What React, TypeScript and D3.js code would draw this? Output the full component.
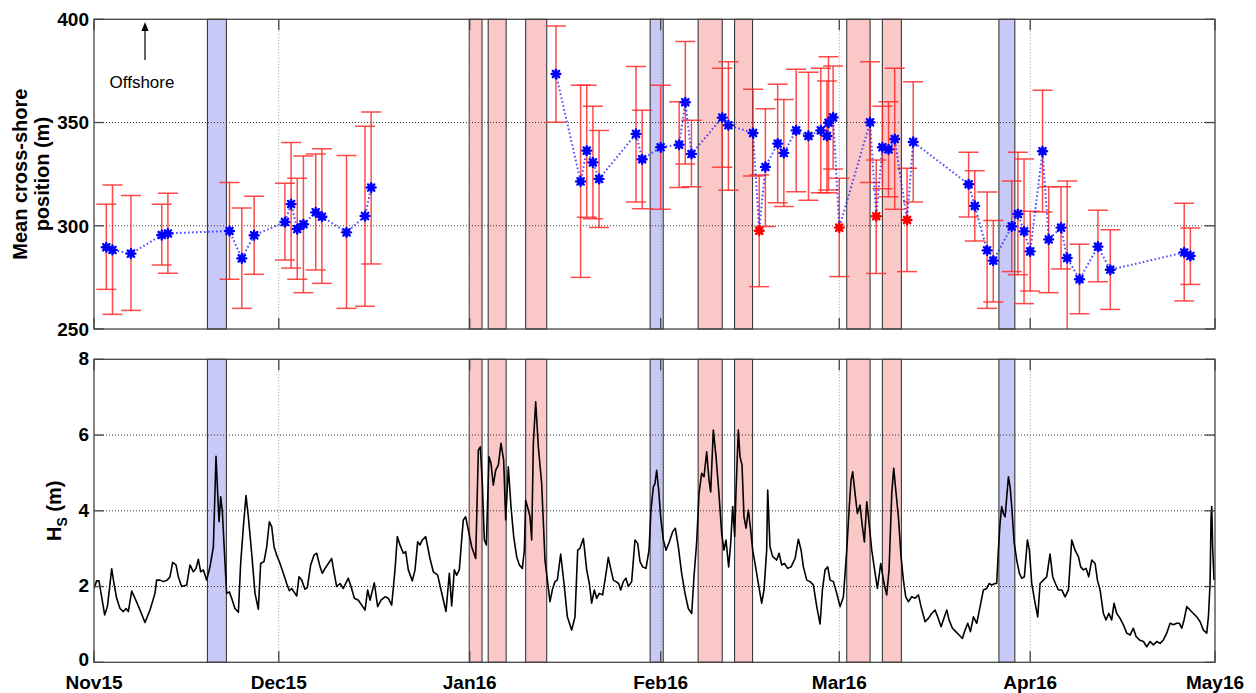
import React from "react";
import * as d3 from "d3";

// ---------- DATA ----------
// Mean cross-shore position samples
const posDates = [
  "2015-11-03", "2015-11-04", "2015-11-07", "2015-11-12", "2015-11-13", "2015-11-23", "2015-11-25", "2015-11-27",
  "2015-12-02", "2015-12-03", "2015-12-04", "2015-12-05", "2015-12-07", "2015-12-08", "2015-12-12", "2015-12-15", "2015-12-16",
  "2016-01-15", "2016-01-19", "2016-01-20", "2016-01-21", "2016-01-22", "2016-01-28", "2016-01-29",
  "2016-02-01", "2016-02-04", "2016-02-05", "2016-02-06", "2016-02-11", "2016-02-12", "2016-02-16", "2016-02-17",
  "2016-02-18", "2016-02-20", "2016-02-21", "2016-02-23", "2016-02-25", "2016-02-27", "2016-02-28T00:00", "2016-02-28T06:00",
  "2016-02-29", "2016-03-01", "2016-03-06", "2016-03-07", "2016-03-08", "2016-03-09", "2016-03-10", "2016-03-12", "2016-03-13",
  "2016-03-22", "2016-03-23", "2016-03-25", "2016-03-26", "2016-03-29", "2016-03-30", "2016-03-31",
  "2016-04-01", "2016-04-03", "2016-04-04", "2016-04-06", "2016-04-07", "2016-04-09", "2016-04-12", "2016-04-14",
  "2016-04-26", "2016-04-27",
];
const posMean = [
  289.6, 288.3, 286.5, 295.5, 296.3, 297.5, 284.2, 295.4,
  301.8, 310.5, 298.4, 300.7, 306.5, 304.4, 296.8, 304.7, 318.5,
  373.5, 321.5, 336.4, 330.7, 322.7, 344.5, 332.2,
  338.0, 339.3, 359.8, 334.8, 352.4, 348.7, 344.9, 297.6,
  328.5, 339.8, 335.3, 346.2, 343.5, 346.2, 343.5, 349.9,
  352.5, 299.1, 350.1, 304.6, 338.0, 337.0, 342.0, 302.8, 340.6,
  320.1, 309.6, 288.1, 283.1, 299.7, 305.7, 297.3,
  287.6, 336.1, 293.4, 299.1, 284.4, 274.1, 289.9, 278.7,
  287.1, 285.4,
];
const posUpper = [
  310.4, 319.7, 314.7, 310.4, 315.7, 320.9, 308.6, 314.3,
  320.6, 340.3, 323.0, 333.8, 334.8, 337.3, 334.0, 348.2, 355.1,
  396.8, 368.0, 368.0, 357.9, 346.2, 377.1, 355.9,
  368.0, 360.1, 389.2, 351.1, 376.3, 379.5, 366.1, 324.6,
  356.7, 368.5, 361.2, 375.8, 374.3, 376.3, 370.1, 381.9,
  377.4, 323.0, 379.5, 331.8, 357.9, 360.1, 376.3, 327.8, 369.8,
  335.6, 326.6, 316.4, 302.6, 321.7, 335.6, 332.3,
  307.0, 365.6, 318.9, 318.9, 321.7, 291.0, 307.5, 298.1,
  310.9, 298.9,
];
const posLower = [
  269.2, 257.1, 259.0, 281.0, 277.0, 274.1, 260.0, 276.5,
  283.4, 279.5, 274.1, 267.6, 278.6, 272.1, 260.0, 261.0, 281.5,
  350.1, 275.0, 304.1, 303.4, 299.1, 311.5, 308.3,
  308.0, 318.5, 329.9, 318.9, 328.3, 317.2, 324.1, 270.5,
  299.7, 311.2, 309.3, 316.5, 312.3, 316.0, 316.0, 317.3,
  327.5, 275.4, 321.0, 276.9, 317.9, 314.1, 308.0, 277.8, 311.5,
  304.2, 292.6, 260.0, 263.1, 277.8, 276.3, 262.3,
  268.4, 306.7, 267.6, 279.1, 240.0, 257.4, 272.9, 259.5,
  263.6, 271.6,
];
// surveys flagged in red
const posFlagged = ["2016-02-17", "2016-03-01", "2016-03-07", "2016-03-12"];

// Storm / event windows
const eventStart = [
  "2015-11-19T10:00", "2015-12-31T22:00", "2016-01-04T00:00", "2016-01-10T02:00", "2016-01-30T07:00",
  "2016-02-07T02:00", "2016-02-13T00:00", "2016-03-02T05:00", "2016-03-08T00:00", "2016-03-26T22:00",
];
const eventEnd = [
  "2015-11-22T12:00", "2016-01-03T00:00", "2016-01-06T22:00", "2016-01-13T12:00", "2016-02-01T10:00",
  "2016-02-11T00:00", "2016-02-15T22:00", "2016-03-06T00:00", "2016-03-11T02:00", "2016-03-29T12:00",
];
const eventType = ["blue", "red", "red", "red", "blue", "red", "red", "red", "red", "blue"];

// Significant wave height: days since 2015-11-01 00:00 UTC, and Hs (m)
const hsDay = [
  0.0, 0.43, 0.81, 1.24, 1.73, 2.17, 2.49, 2.87, 3.25, 3.68, 4.22, 4.76, 5.2, 5.57, 6.12, 6.66, 7.47, 8.28, 9.09, 9.9,
  10.17, 10.72, 11.26, 11.91, 12.34, 12.77, 13.31, 13.69, 14.23, 15.05, 15.59, 16.13, 16.56, 16.94, 17.32, 17.75, 18.29, 18.83, 19.38, 19.81,
  20.08, 20.3, 20.57, 20.84, 21.16, 21.54, 21.97, 22.35, 22.89, 23.44, 23.81, 24.25, 24.68, 25.06, 25.6, 26.14, 26.68, 27.06, 27.6, 28.04,
  28.47, 28.85, 29.23, 29.66, 30.2, 30.74, 31.28, 31.72, 32.09, 32.47, 32.91, 33.29, 33.72, 34.26, 34.64, 35.18, 35.72, 36.15, 36.7, 37.07,
  37.51, 38.05, 38.59, 38.96, 39.4, 39.94, 40.48, 41.29, 41.73, 42.27, 42.92, 43.46, 44.0, 44.43, 44.81, 45.51, 46.05, 46.6, 47.24, 47.79,
  48.33, 48.87, 49.25, 49.68, 50.22, 50.6, 51.03, 51.68, 52.12, 52.55, 52.93, 53.31, 53.85, 54.55, 55.09, 55.8, 56.34, 57.15, 57.69, 58.07,
  58.5, 58.88, 59.31, 59.69, 59.96, 60.34, 60.78, 61.32, 61.97, 62.4, 62.72, 63.05, 63.37, 63.7, 64.13, 64.46, 64.83, 65.21, 65.65, 66.08,
  66.51, 66.84, 67.27, 67.7, 68.14, 68.62, 69.06, 69.54, 69.87, 70.08, 70.52, 70.79, 71.06, 71.33, 71.71, 72.14, 72.68, 73.22,
  74.03, 74.47, 74.85, 75.22, 75.77, 76.31, 76.85, 77.55, 78.09, 78.53, 78.9, 79.45, 79.99, 80.42, 80.8, 81.23, 81.61, 82.04, 82.58, 83.13,
  83.5, 83.88, 84.32, 84.75, 85.18, 85.51, 85.94, 86.37, 86.75, 87.29, 87.83, 88.27, 88.65, 89.08, 89.62, 90.11, 90.43, 90.81, 91.08, 91.35,
  91.68, 92.0, 92.44, 92.87, 93.41, 93.95, 94.38, 94.87, 95.41, 95.95, 96.49, 97.04, 97.41, 97.85, 98.23, 98.66, 99.04, 99.47, 99.85, 100.12,
  100.55, 100.99, 101.42, 101.91, 102.28, 102.61, 103.04, 103.37, 103.69, 104.02, 104.24, 104.61, 104.88, 105.21, 105.53, 105.86, 106.24, 106.62, 106.94, 107.32,
  107.86, 108.4, 108.78, 109.21, 109.38, 109.75, 110.19, 110.57,
  110.84, 111.22, 111.66, 112.09, 112.63, 113.17, 113.82, 114.36, 114.8, 115.17, 115.72, 116.26, 116.8, 117.34, 117.88, 118.26, 118.69, 119.13, 119.5, 120.05,
  120.59, 121.13, 121.67, 122.21, 122.59, 122.91, 123.18, 123.56, 123.94, 124.37, 124.75, 125.08, 125.46, 125.84, 126.27, 126.7, 127.19, 127.73, 128.27, 128.7,
  129.08, 129.52, 129.84, 130.17, 130.6, 131.03, 131.41, 131.79, 132.22, 132.76, 133.31, 133.85, 134.28, 134.93, 135.47, 136.01, 136.55, 136.98, 137.53, 138.07,
  138.45, 138.82, 139.37, 139.91, 140.45, 140.99, 141.42, 141.86, 142.29, 142.78, 143.32, 143.86, 144.4, 144.94, 145.32, 145.75, 146.29,
  146.56, 146.83, 147.1, 147.37, 147.64, 147.92, 148.19, 148.46, 148.73, 149.0, 149.38, 149.81, 150.24, 150.62, 151.05, 151.54, 151.87, 152.25, 152.79, 153.22,
  153.6, 154.14, 154.68, 155.22, 155.65, 156.09, 156.57, 157.12, 157.66, 158.2, 158.74, 159.28, 159.82, 160.2, 160.63, 161.07, 161.5, 161.99, 162.53, 162.91,
  163.34, 163.88, 164.31, 164.75, 165.23, 165.61, 166.05, 166.59, 167.13, 167.67, 168.21, 168.75, 169.19, 169.73, 170.38, 170.92, 171.46, 172.0, 172.54, 173.08,
  173.62, 174.16, 174.71, 175.25, 175.79, 176.22, 176.6, 176.98, 177.41, 177.95, 178.49, 179.04, 179.58, 180.12, 180.66, 180.93, 181.2, 181.36, 181.47, 181.63, 181.85,
];
const hsValue = [
  1.95, 2.15, 2.15, 1.73, 1.25, 1.47, 1.91, 2.47, 2.08, 1.69, 1.42, 1.34, 1.42, 1.34, 1.88, 1.69, 1.38, 1.05, 1.38, 1.82,
  2.17, 2.17, 2.13, 2.17, 2.26, 2.64, 2.57, 2.26, 2.0, 2.04, 2.57, 2.39, 2.48, 2.72, 2.39, 2.44, 2.17, 2.52, 3.05, 5.44,
  4.46, 3.71, 4.37, 3.98, 2.96, 1.82, 1.86, 1.69, 1.42, 1.32, 2.61, 3.58, 4.4, 3.84, 2.88, 1.82, 1.4, 2.61, 2.66, 3.05,
  3.71, 3.58, 3.05, 2.83, 2.61, 2.35, 2.08, 1.89, 1.95, 1.86, 1.75, 2.26, 2.17, 1.93, 1.98, 2.57, 2.83, 2.88, 2.52, 2.35,
  2.48, 2.61, 2.74, 2.39, 2.0, 2.08, 1.95, 2.22, 2.0, 1.69, 1.64, 1.51, 1.38, 1.91, 1.64, 2.1, 1.47, 1.64, 1.73, 1.69,
  1.51, 2.44, 3.32, 3.1, 2.88, 2.92, 2.44, 2.15, 2.44, 3.18, 3.1, 3.23, 3.32, 2.74, 2.39, 2.3, 1.91, 1.34, 2.35, 1.49,
  2.44, 2.3, 2.44, 3.23, 3.76, 3.84, 3.49, 3.05, 2.74, 5.6, 5.69, 4.72, 3.23, 3.1, 5.43, 5.25, 4.68, 5.07, 5.21, 5.78,
  5.34, 3.76, 5.16, 4.11, 3.32, 2.79, 2.57, 2.48, 2.96, 4.28, 4.02, 3.84, 3.23, 5.78, 6.88, 5.69, 4.72, 2.7,
  1.6, 1.95, 2.13, 2.17, 2.86, 2.08, 1.2, 0.85, 1.2, 2.96, 3.01, 3.27, 2.44, 2.08, 1.56, 1.91, 1.69, 1.82, 1.78, 2.35,
  2.77, 2.48, 2.17, 2.13, 2.08, 1.91, 2.13, 2.22, 2.0, 2.13, 3.23, 3.14, 2.66, 2.52, 2.48, 2.96, 4.02, 4.63, 4.72, 5.07,
  4.55, 3.84, 3.23, 2.96, 3.18, 3.45, 3.54, 3.05, 2.35, 1.82, 1.42, 1.29, 2.26, 3.18, 4.46, 4.99, 4.9, 5.56, 4.81, 4.5,
  6.13, 5.43, 4.55, 3.4, 2.96, 3.23, 2.52, 3.14, 4.11, 3.32, 4.55, 6.13, 5.43, 5.21, 3.84, 3.54, 4.02, 3.49, 2.96, 2.61,
  2.08, 1.56, 1.91, 2.96, 4.55, 3.05, 2.79, 2.74,
  2.7, 2.88, 2.57, 2.61, 2.48, 2.52, 2.74, 3.25, 2.96, 2.52, 2.17, 2.13, 2.04, 1.47, 1.01, 1.91, 2.44, 2.52, 2.17, 2.13,
  1.82, 1.47, 1.73, 2.96, 4.02, 4.81, 5.03, 4.46, 3.93, 4.15, 3.58, 3.18, 4.24, 3.67, 2.96, 2.48, 1.95, 2.61, 2.08, 1.78,
  2.44, 4.46, 5.12, 4.55, 3.84, 2.79, 2.17, 1.73, 1.6, 1.73, 1.69, 1.78, 1.47, 1.07, 1.16, 1.29, 1.38, 1.2, 0.94, 1.2,
  1.38, 1.12, 0.9, 0.81, 0.72, 0.63, 0.85, 1.03, 0.81, 1.2, 1.03, 1.47, 1.91, 1.95, 2.08, 2.04, 2.08,
  2.08, 2.96, 3.67, 4.11, 3.93, 3.84, 4.37, 4.9, 4.63, 4.11, 3.18, 2.7, 2.35, 2.22, 2.26, 3.23, 2.96, 2.08, 1.56, 1.2,
  2.08, 2.17, 2.26, 2.86, 2.26, 2.08, 1.91, 1.91, 1.73, 1.91, 3.23, 2.96, 2.79, 2.52, 2.44, 2.48, 2.26, 2.7, 2.61, 2.17,
  1.91, 1.29, 1.12, 1.29, 1.12, 1.56, 1.29, 1.16, 0.99, 0.77, 0.72, 0.9, 0.68, 0.59, 0.55, 0.41, 0.55, 0.46, 0.55, 0.5,
  0.59, 0.77, 1.03, 0.99, 1.03, 1.03, 0.9, 1.12, 1.47, 1.38, 1.29, 1.2, 1.07, 0.85, 0.77, 1.2, 2.08, 3.84, 4.11, 2.96, 2.17,
];

const monthTicks = ["2015-11-01", "2015-12-01", "2016-01-01", "2016-02-01", "2016-03-01", "2016-04-01", "2016-05-01"];
const monthLabels = ["Nov15", "Dec15", "Jan16", "Feb16", "Mar16", "Apr16", "May16"];
const posTicks = [250, 300, 350, 400];
const hsTicks = [0, 2, 4, 6, 8];

// ---------- HELPERS ----------
const parseDate = (s: string) => new Date(s.length === 10 ? s + "T00:00:00Z" : s + ":00Z");
const T0 = Date.UTC(2015, 10, 1);
const dayToDate = (d: number) => new Date(T0 + d * 86400000);

const W = 1256;
const H = 693;
const X0 = 94;
const X1 = 1215;
const TOP = { y0: 19.3, y1: 329 };
const BOT = { y0: 359.3, y1: 662.3 };

const FONT = "'Liberation Sans', Arial, Helvetica, sans-serif";

export default function App() {
  const x = d3.scaleUtc().domain([parseDate("2015-11-01"), parseDate("2016-05-01")]).range([X0, X1]);
  const yPos = d3.scaleLinear().domain([250, 400]).range([TOP.y1, TOP.y0]);
  const yHs = d3.scaleLinear().domain([0, 8]).range([BOT.y1, BOT.y0]);

  const pts = posDates.map((d, i) => ({
    date: parseDate(d),
    mean: posMean[i],
    hi: posUpper[i],
    lo: posLower[i],
    flagged: posFlagged.includes(d),
  }));

  // split dotted line where sampling gap exceeds 20 days
  const segments: typeof pts[] = [];
  pts.forEach((p, i) => {
    if (i === 0 || (p.date.getTime() - pts[i - 1].date.getTime()) / 86400000 > 20) segments.push([p]);
    else segments[segments.length - 1].push(p);
  });
  const posLine = d3
    .line<(typeof pts)[number]>()
    .x((d) => x(d.date))
    .y((d) => yPos(d.mean));

  const hsPts = hsDay.map((d, i) => ({ date: dayToDate(d), v: hsValue[i] }));
  const hsLine = d3
    .line<(typeof hsPts)[number]>()
    .x((d) => x(d.date))
    .y((d) => yHs(d.v));

  const events = eventStart.map((s, i) => ({ s: parseDate(s), e: parseDate(eventEnd[i]), type: eventType[i] }));

  const bandFill = (t: string) => (t === "red" ? "#fbc8c8" : "#c9c9f8");

  const ticksX = monthTicks.map(parseDate);

  const Marker = ({ cx, cy, color }: { cx: number; cy: number; color: string }) => {
    const r = 4.4;
    const k = r * 0.72;
    return (
      <g stroke={color} strokeWidth={2.4} strokeLinecap="round">
        <circle cx={cx} cy={cy} r={3.4} fill={color} stroke="none" />
        <line x1={cx - r} y1={cy} x2={cx + r} y2={cy} />
        <line x1={cx} y1={cy - r} x2={cx} y2={cy + r} />
        <line x1={cx - k} y1={cy - k} x2={cx + k} y2={cy + k} />
        <line x1={cx - k} y1={cy + k} x2={cx + k} y2={cy - k} />
      </g>
    );
  };

  const panel = (p: { y0: number; y1: number }, yScale: d3.ScaleLinear<number, number>, yticks: number[], key: string) => (
    <g key={key}>
      {events.map((ev, i) => (
        <rect
          key={i}
          x={x(ev.s)}
          y={p.y0}
          width={x(ev.e) - x(ev.s)}
          height={p.y1 - p.y0}
          fill={bandFill(ev.type)}
          stroke="#3a3a3a"
          strokeWidth={1.1}
        />
      ))}
      {yticks.slice(1, -1).map((t) => (
        <line key={"gy" + t} x1={X0} x2={X1} y1={yScale(t)} y2={yScale(t)} stroke="#333" strokeWidth={1} strokeDasharray="1 2" />
      ))}
      {ticksX.slice(1, -1).map((t, i) => (
        <line key={"gx" + i} x1={x(t)} x2={x(t)} y1={p.y0} y2={p.y1} stroke="#999" strokeWidth={1} strokeDasharray="1 2" />
      ))}
    </g>
  );

  const frame = (p: { y0: number; y1: number }, yScale: d3.ScaleLinear<number, number>, yticks: number[], key: string) => (
    <g key={key} stroke="#444" strokeWidth={1.3} fill="none">
      <rect x={X0} y={p.y0} width={X1 - X0} height={p.y1 - p.y0} />
      {yticks.map((t) => (
        <g key={t}>
          <line x1={X0} x2={X0 + 10} y1={yScale(t)} y2={yScale(t)} />
          <line x1={X1} x2={X1 - 10} y1={yScale(t)} y2={yScale(t)} />
        </g>
      ))}
      {ticksX.map((t, i) => (
        <g key={"t" + i}>
          <line x1={x(t)} x2={x(t)} y1={p.y1} y2={p.y1 - 11} />
          <line x1={x(t)} x2={x(t)} y1={p.y0} y2={p.y0 + 11} />
        </g>
      ))}
    </g>
  );

  return (
    <svg
      width={W}
      height={H}
      viewBox={`0 0 ${W} ${H}`}
      style={{ position: "absolute", left: 0, top: 0, background: "#fff" }}
      fontFamily={FONT}
    >
      <defs>
        <clipPath id="clipTop">
          <rect x={X0} y={TOP.y0} width={X1 - X0} height={TOP.y1 - TOP.y0} />
        </clipPath>
        <clipPath id="clipBot">
          <rect x={X0} y={BOT.y0} width={X1 - X0} height={BOT.y1 - BOT.y0} />
        </clipPath>
      </defs>
      <rect x={0} y={0} width={W} height={H} fill="#fff" />

      {panel(TOP, yPos, posTicks, "pt")}
      {panel(BOT, yHs, hsTicks, "pb")}

      {/* top panel data */}
      <g clipPath="url(#clipTop)">
        {pts.map((p, i) => {
          const cx = x(p.date);
          return (
            <g key={"eb" + i} stroke="#ff2a2a" strokeWidth={1.5} strokeOpacity={0.85}>
              <line x1={cx} x2={cx} y1={yPos(p.hi)} y2={yPos(p.lo)} />
              <line x1={cx - 10} x2={cx + 10} y1={yPos(p.hi)} y2={yPos(p.hi)} />
              <line x1={cx - 10} x2={cx + 10} y1={yPos(p.lo)} y2={yPos(p.lo)} />
            </g>
          );
        })}
        {segments.map((seg, i) => (
          <path
            key={"seg" + i}
            d={posLine(seg) || ""}
            fill="none"
            stroke="#2222ff"
            strokeWidth={2}
            strokeDasharray="1.6 2.4"
            strokeOpacity={0.8}
          />
        ))}
        {pts.map((p, i) => (
          <Marker key={"m" + i} cx={x(p.date)} cy={yPos(p.mean)} color={p.flagged ? "#ff0000" : "#0000ff"} />
        ))}
      </g>

      {/* offshore arrow */}
      <g>
        <line x1={145} x2={145} y1={60} y2={27} stroke="#000" strokeWidth={1.2} />
        <path d="M145,22 L141.5,31 L148.5,31 Z" fill="#000" />
        <text x={142} y={88} fontSize={17} textAnchor="middle" fill="#000">
          Offshore
        </text>
      </g>

      {/* bottom panel data */}
      <g clipPath="url(#clipBot)">
        <path d={hsLine(hsPts) || ""} fill="none" stroke="#000" strokeWidth={1.6} strokeLinejoin="round" />
      </g>

      {frame(TOP, yPos, posTicks, "ft")}
      {frame(BOT, yHs, hsTicks, "fb")}

      {/* tick labels */}
      <g fontSize={19} fontWeight="bold" fill="#000">
        {posTicks.map((t) => (
          <text key={"pl" + t} x={89} y={yPos(t)} dy="0.36em" textAnchor="end">
            {t}
          </text>
        ))}
        {hsTicks.map((t) => (
          <text key={"hl" + t} x={89} y={t === 0 ? yHs(t) - 2.5 : yHs(t)} dy="0.3em" textAnchor="end">
            {t}
          </text>
        ))}
        {ticksX.map((t, i) => (
          <text key={"xl" + i} x={x(t)} y={689} textAnchor="middle">
            {monthLabels[i]}
          </text>
        ))}
      </g>

      {/* axis titles */}
      <g fontSize={20} fontWeight="bold" fill="#000" textAnchor="middle">
        <text transform={`translate(27,${(TOP.y0 + TOP.y1) / 2}) rotate(-90)`}>Mean cross-shore</text>
        <text transform={`translate(49,${(TOP.y0 + TOP.y1) / 2}) rotate(-90)`}>position (m)</text>
        <text transform={`translate(61,${(BOT.y0 + BOT.y1) / 2}) rotate(-90)`}>
          H<tspan fontSize={14} dy={6}>S</tspan>
          <tspan dy={-6}> (m)</tspan>
        </text>
      </g>
    </svg>
  );
}
